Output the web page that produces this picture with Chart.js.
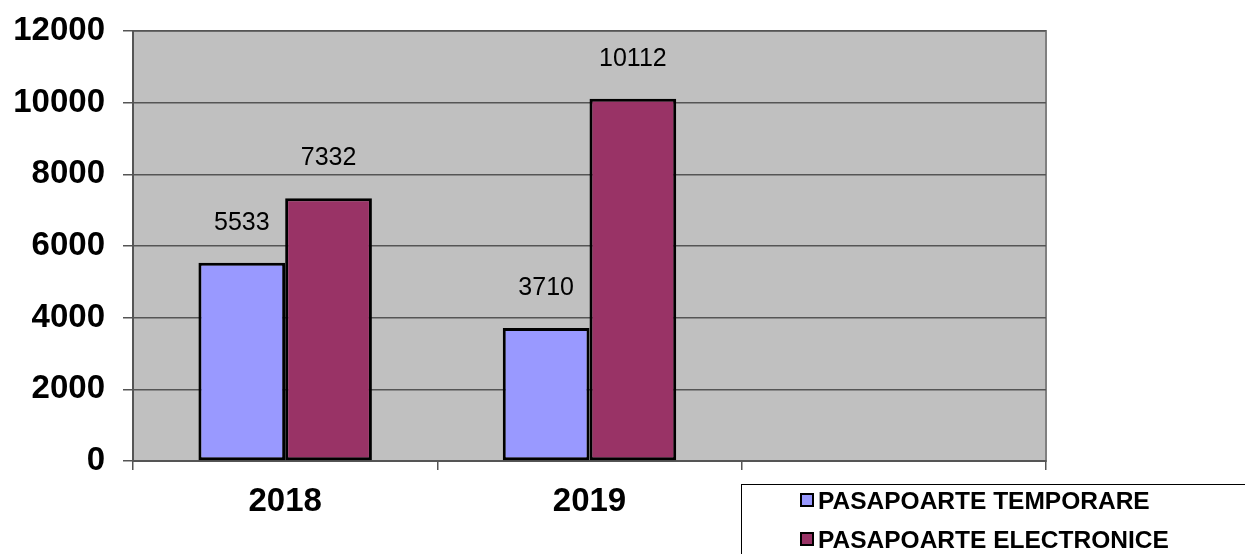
<!DOCTYPE html>
<html>
<head>
<meta charset="utf-8">
<script src="https://cdn.jsdelivr.net/npm/chart.js@4"></script>
<style>
  html, body { margin: 0; padding: 0; background: #fff; }
  #wrap { position: relative; width: 1245px; height: 554px; }
  #legend {
    position: absolute; left: 741px; top: 484px; width: 520px; height: 90px;
    border: 1px solid #000; box-sizing: border-box;
    font: bold 24.5px "Liberation Sans", Arial, sans-serif;
  }
  #legend div { position: absolute; left: 58px; white-space: nowrap; line-height: 30px; }
  #legend span { display: inline-block; width: 10px; height: 10px; border: 2px solid #000; margin-right: 4px; vertical-align: 2px; }
</style>
</head>
<body>
<div id="wrap">
  <canvas id="passChart" width="1245" height="554"></canvas>
  <div id="legend"></div>
</div>
<script>
// Date grafic
const years = ['2018', '2019', ''];
const temporare = [5533, 3710, null];
const electronice = [7332, 10112, null];
const yTicks = [0, 2000, 4000, 6000, 8000, 10000, 12000];

const seriesNames = ['PASAPOARTE TEMPORARE', 'PASAPOARTE ELECTRONICE'];
const seriesColors = ['#9999FF', '#993366'];

// Fundal gri pentru zona graficului
const plotBg = {
  id: 'plotBg',
  beforeDraw(chart) {
    const a = chart.chartArea, c = chart.ctx;
    c.save();
    c.fillStyle = '#C0C0C0';
    c.fillRect(a.left, a.top, a.right - a.left, a.bottom - a.top);
    c.strokeStyle = '#808080';
    c.lineWidth = 2;
    c.strokeRect(a.left, a.top, a.right - a.left, a.bottom - a.top);
    c.restore();
  }
};

// Etichete valori deasupra barelor
const valueLabels = {
  id: 'valueLabels',
  afterDatasetsDraw(chart) {
    const c = chart.ctx;
    c.save();
    c.font = '25px "Liberation Sans", Arial, sans-serif';
    c.fillStyle = '#000';
    c.textAlign = 'center';
    c.textBaseline = 'middle';
    chart.data.datasets.forEach((ds, i) => {
      chart.getDatasetMeta(i).data.forEach((bar, j) => {
        if (ds.data[j] == null) return;
        c.fillText(ds.data[j], bar.x, bar.y - 40);
      });
    });
    c.restore();
  }
};

const tickFont = { family: '"Liberation Sans", Arial, sans-serif', size: 33, weight: 'bold', lineHeight: 1 };

const ctx = document.getElementById('passChart').getContext('2d');
const passChart = new Chart(ctx, {
  type: 'bar',
  data: {
    labels: years,
    datasets: [{
      label: seriesNames[0],
      data: temporare,
      backgroundColor: seriesColors[0],
      borderColor: '#000',
      borderWidth: 3,
      borderSkipped: false
    }, {
      label: seriesNames[1],
      data: electronice,
      backgroundColor: seriesColors[1],
      borderColor: '#000',
      borderWidth: 3,
      borderSkipped: false
    }]
  },
  options: {
    responsive: false,
    animation: false,
    layout: { padding: { top: 31, right: 199 } },
    datasets: { bar: { categoryPercentage: 0.57, barPercentage: 1 } },
    plugins: { legend: { display: false }, tooltip: { enabled: false } },
    scales: {
      x: {
        offset: true,
        afterFit(s) { s.height = 93; },
        grid: { offset: true, drawOnChartArea: false, color: '#555', tickLength: 9, lineWidth: 1.5 },
        border: { color: '#555', width: 2 },
        ticks: { color: '#000', padding: 15, font: tickFont }
      },
      y: {
        min: 0,
        max: 12000,
        afterFit(s) { s.width = 133; s.paddingTop = 0; },
        afterBuildTicks(s) { s.ticks = yTicks.map(v => ({ value: v })); },
        grid: { color: '#555', tickLength: 10, lineWidth: 1.5 },
        border: { color: '#555', width: 2 },
        ticks: { color: '#000', padding: 18, font: tickFont, callback: v => String(v) }
      }
    }
  },
  plugins: [plotBg, valueLabels]
});

// Legenda
const legendEl = document.getElementById('legend');
seriesNames.forEach((name, i) => {
  const row = document.createElement('div');
  row.style.top = (i === 0 ? 1 : 40) + 'px';
  row.innerHTML = '<span style="background:' + seriesColors[i] + '"></span>' + name;
  legendEl.appendChild(row);
});
</script>
</body>
</html>
